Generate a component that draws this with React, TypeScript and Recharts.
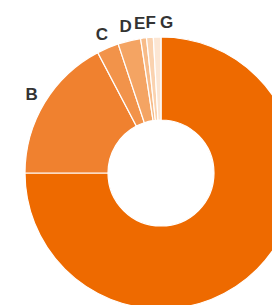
import React from 'react';
import { PieChart, Pie, Cell } from 'recharts';

const categories = ['A', 'B', 'C', 'D', 'E', 'F', 'G'];
const values = [75, 17.3, 2.6, 2.7, 0.7, 0.8, 0.9];
const colors = ['#EE6A00', '#F0812F', '#F2934A', '#F4A463', '#F7BB88', '#FAD2AF', '#FCE6D3'];

const data = categories.map((name, i) => ({ name, value: values[i] }));

const RADIAN = Math.PI / 180;

const renderLabel = (props: any) => {
  const { cx, cy, midAngle, outerRadius, index } = props;
  if (index === 0) return null;
  const r = outerRadius + 15;
  let x = cx + r * Math.cos(-midAngle * RADIAN);
  const y = cy + r * Math.sin(-midAngle * RADIAN);
  // simple collision spreading for the small top slices
  const spread = [0, 0, 0, 0, -2, 2, 10];
  x += spread[index] || 0;
  return (
    <text
      x={x}
      y={y}
      textAnchor="middle"
      dominantBaseline="central"
      fill="#333333"
      fontFamily="Liberation Sans, Arial, sans-serif"
      fontWeight="bold"
      fontSize={17}
    >
      {categories[index]}
    </text>
  );
};

export default function App() {
  return (
    <PieChart width={320} height={330}>
      <Pie
        data={data}
        dataKey="value"
        nameKey="name"
        cx={148}
        cy={160}
        innerRadius={53}
        outerRadius={136}
        startAngle={90}
        endAngle={-270}
        stroke="#ffffff"
        strokeWidth={1.2}
        label={renderLabel}
        labelLine={false}
        isAnimationActive={false}
      >
        {data.map((d, i) => (
          <Cell key={d.name} fill={colors[i]} />
        ))}
      </Pie>
    </PieChart>
  );
}
